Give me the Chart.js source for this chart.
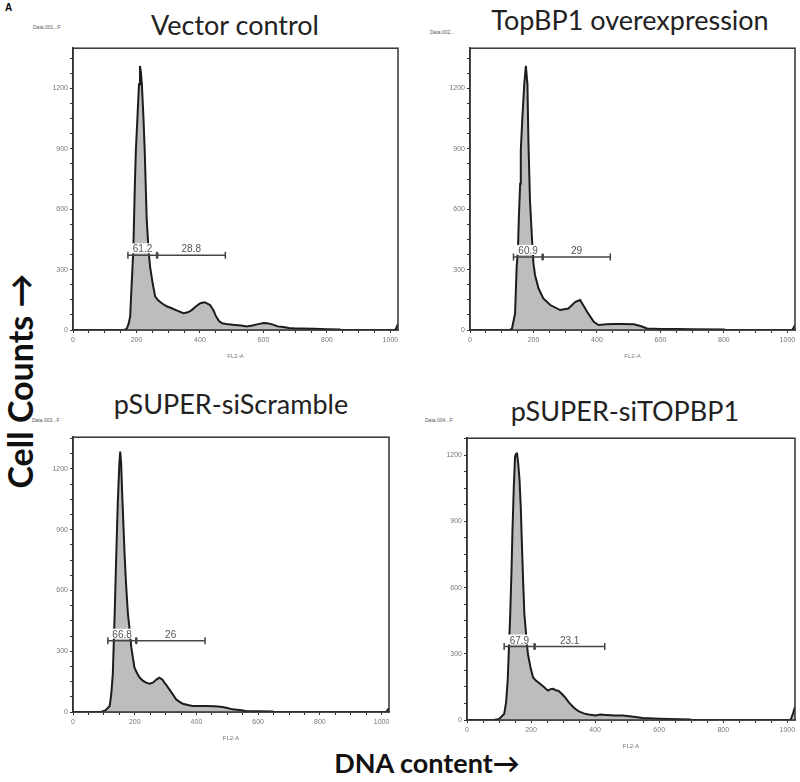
<!DOCTYPE html>
<html>
<head>
<meta charset="utf-8">
<script src="https://cdn.jsdelivr.net/npm/chart.js@4/dist/chart.umd.min.js"></script>
<style>
  body { margin: 0; background: #fff; width: 800px; height: 782px; position: relative; overflow: hidden; font-family: Lato, sans-serif; }
  canvas { position: absolute; }
  .t { position: absolute; transform: translate(-50%, -50%); white-space: nowrap; color: #222; }
  .title { font-size: 27px; }
  .big { font-weight: bold; color: #111; }
  .file { position: absolute; font: 5px Arial, sans-serif; color: #555; }
</style>
</head>
<body>
<div style="position:absolute;left:5px;top:2px;font:bold 10px Arial,sans-serif;">A</div>
<div class="t title" style="left:235px;top:24px;">Vector control</div>
<div class="t title" style="left:630px;top:19px;">TopBP1 overexpression</div>
<div class="t title" style="left:231px;top:403px;">pSUPER-siScramble</div>
<div class="t title" style="left:625px;top:410px;">pSUPER-siTOPBP1</div>
<div class="t big" style="left:19px;top:381px;font-size:34px;transform:translate(-50%,-50%) rotate(-90deg);">Cell Counts →</div>
<div class="t big" style="left:427px;top:762px;font-size:27px;">DNA content→</div>
<div class="file" style="left:33px;top:24px;">Data.001...F</div>
<div class="file" style="left:430px;top:29px;">Data.002...</div>
<div class="file" style="left:32px;top:417px;">Data.003...F</div>
<div class="file" style="left:425px;top:417px;">Data.004...F</div>

<canvas id="c1"></canvas>
<canvas id="c2"></canvas>
<canvas id="c3"></canvas>
<canvas id="c4"></canvas>

<script>
// histogram traces (FL2-A channel, cell counts)
const vecX = [0, 160, 169, 175, 180, 185, 190, 195, 198, 203, 208, 211, 214, 217, 222, 226, 229, 232, 238, 243, 251, 259, 270, 280, 295, 311, 330, 348, 362, 374, 388, 401, 415, 432, 442, 450, 460, 470, 490, 510, 530, 547, 565, 580, 600, 612, 628, 645, 662, 680, 700, 720, 760, 800, 840, 845, 1015, 1020, 1024];
const vecY = [0, 0, 5, 30, 66, 232, 396, 726, 891, 1056, 1221, 1312, 1280, 1221, 1056, 891, 726, 560, 396, 313, 232, 166, 145, 133, 118, 108, 95, 83, 88, 99, 118, 133, 138, 124, 100, 70, 45, 33, 28, 25, 22, 18, 22, 28, 35, 33, 28, 18, 15, 10, 8, 8, 6, 4, 3, 0, 0, 15, 30];

const topX = [0, 125, 132, 142, 147, 151, 154, 158, 160, 165, 171, 176, 181, 184, 189, 195, 200, 205, 216, 231, 253, 284, 310, 332, 347, 369, 390, 405, 430, 455, 480, 516, 537, 558, 600, 650, 700, 800, 805, 1015, 1020, 1024];
const topY = [0, 0, 5, 83, 313, 396, 561, 726, 891, 1056, 1221, 1312, 1221, 940, 644, 462, 330, 272, 206, 157, 124, 99, 107, 140, 149, 91, 41, 25, 28, 30, 30, 28, 20, 8, 5, 5, 4, 2, 0, 0, 12, 25];

const scrX = [0, 90, 105, 119, 124, 129, 135, 140, 145, 150, 153, 156, 159, 163, 167, 172, 178, 184, 189, 199, 208, 216, 226, 237, 248, 259, 270, 280, 290, 296, 304, 312, 323, 334, 345, 356, 372, 388, 410, 431, 460, 485, 500, 517, 540, 560, 600, 647, 650, 1015, 1020, 1024];
const scrY = [0, 0, 8, 30, 90, 187, 484, 765, 1030, 1220, 1286, 1230, 1096, 940, 782, 630, 484, 400, 319, 220, 190, 170, 155, 145, 140, 145, 160, 170, 160, 145, 130, 112, 88, 63, 50, 41, 35, 30, 30, 30, 28, 25, 20, 13, 10, 5, 4, 2, 0, 0, 10, 20];

const siX = [0, 84, 100, 116, 122, 127, 131, 135, 139, 142, 146, 150, 153, 156, 160, 164, 168, 171, 175, 179, 185, 190, 198, 206, 214, 222, 232, 241, 247, 253, 261, 269, 277, 285, 295, 306, 318, 332, 348, 364, 380, 401, 417, 433, 460, 486, 520, 549, 600, 633, 697, 700, 1010, 1018, 1024];
const siY = [0, 0, 5, 27, 80, 179, 330, 482, 680, 861, 1050, 1194, 1205, 1212, 1160, 1088, 960, 815, 640, 482, 380, 300, 240, 194, 180, 171, 160, 148, 140, 133, 140, 141, 135, 133, 120, 103, 80, 58, 40, 30, 25, 20, 25, 23, 20, 20, 15, 9, 6, 4, 2, 0, 0, 30, 60];

// gate edges (G1 | S-phase markers), gate level and percentages
const vecGate = [173, 265, 480], vecLevel = 371, vecPct = ['61.2', '28.8'];
const topGate = [137, 229, 442], topLevel = 363, topPct = ['60.9', '29'];
const scrGate = [113, 205, 428], scrLevel = 352, scrPct = ['66.8', '26'];
const siGate = [116, 211, 430], siLevel = 333, siPct = ['67.9', '23.1'];

const yMax = [1400, 1400, 1357, 1277];

// labelled ticks; minor ticks sit between them
const xTickLabels = [0, 200, 400, 600, 800, 1000];
const yTickLabels = [0, 300, 600, 900, 1200];
const xMinor = 50, yMinor = 75;

function tickList(max, step) {
  const out = [];
  for (let v = 0; v <= max; v += step) out.push({ value: v });
  return out;
}

// frame + gate markers
const gatePlugin = {
  id: 'gates',
  afterDatasetsDraw(chart, args, opts) {
    const { ctx, chartArea: a, scales: { x, y } } = chart;
    ctx.save();
    ctx.strokeStyle = '#333';
    ctx.lineWidth = 1.5;
    ctx.strokeRect(a.left, a.top, a.right - a.left, a.bottom - a.top);

    const py = y.getPixelForValue(opts.level);
    const px = opts.edges.map(v => x.getPixelForValue(v));
    ctx.strokeStyle = '#444';
    ctx.lineWidth = 1.5;
    ctx.beginPath();
    ctx.moveTo(px[0], py);
    ctx.lineTo(px[2], py);
    px.forEach(p => { ctx.moveTo(p, py - 3.5); ctx.lineTo(p, py + 3.5); });
    ctx.stroke();
    ctx.lineWidth = 2.5;
    ctx.beginPath();
    ctx.moveTo(px[1], py - 3);
    ctx.lineTo(px[1], py + 3);
    ctx.stroke();

    ctx.font = '10px Arial, sans-serif';
    ctx.textAlign = 'center';
    ctx.textBaseline = 'alphabetic';
    const c0 = (px[0] + px[1]) / 2, c1 = (px[1] + px[2]) / 2;
    const w0 = ctx.measureText(opts.labels[0]).width;
    ctx.fillStyle = '#fff';
    ctx.fillRect(c0 - w0 / 2 - 2, py - 12, w0 + 4, 10);
    ctx.fillStyle = '#555';
    ctx.fillText(opts.labels[0], c0, py - 3);
    ctx.fillText(opts.labels[1], c1, py - 3);
    ctx.restore();
  }
};

function criaPainel(id, box, xs, ys, ymax, edges, level, labels) {
  const cv = document.getElementById(id);
  const padL = 45, padT = 6, padR = 6, padB = 30;
  const w = box[2] - box[0], h = box[3] - box[1];
  cv.width = w + padL + padR;
  cv.height = h + padT + padB;
  cv.style.left = (box[0] - padL) + 'px';
  cv.style.top = (box[1] - padT) + 'px';

  const pontos = xs.map((v, i) => ({ x: v, y: ys[i] }));
  new Chart(cv, {
    type: 'line',
    data: {
      datasets: [{
        data: pontos,
        borderColor: '#1c1c1c',
        borderWidth: 2,
        backgroundColor: '#bdbdbd',
        fill: 'origin',
        pointRadius: 0,
        tension: 0
      }]
    },
    options: {
      responsive: false,
      animation: false,
      layout: { padding: { top: padT, right: padR, left: 0, bottom: 0 } },
      plugins: {
        legend: { display: false },
        tooltip: { enabled: false },
        gates: { edges, level, labels }
      },
      scales: {
        x: {
          type: 'linear', min: 0, max: 1024,
          afterFit: s => { s.height = padB; },
          afterBuildTicks: s => { s.ticks = tickList(1024, xMinor); },
          border: { color: '#333', width: 1.5 },
          grid: { drawOnChartArea: false, tickLength: 3, color: '#333' },
          ticks: {
            autoSkip: false, maxRotation: 0, padding: 3,
            color: '#777', font: { size: 7, family: 'Arial' },
            callback: v => (xTickLabels.includes(v) ? String(v) : '')
          },
          title: { display: true, text: 'FL2-A', color: '#777', font: { size: 6, family: 'Arial' }, padding: 0 }
        },
        y: {
          type: 'linear', min: 0, max: ymax,
          afterFit: s => { s.width = padL; },
          afterBuildTicks: s => { s.ticks = tickList(ymax, yMinor); },
          border: { color: '#333', width: 1.5 },
          grid: { drawOnChartArea: false, tickLength: 3, color: '#333' },
          ticks: {
            autoSkip: false, padding: 2,
            color: '#777', font: { size: 7, family: 'Arial' },
            callback: v => (yTickLabels.includes(v) ? String(v) : '')
          }
        }
      }
    },
    plugins: [gatePlugin]
  });
}

window.onload = () => {
  criaPainel('c1', [73, 48, 398, 330], vecX, vecY, yMax[0], vecGate, vecLevel, vecPct);
  criaPainel('c2', [470, 48, 795, 330], topX, topY, yMax[1], topGate, topLevel, topPct);
  criaPainel('c3', [73, 437, 389, 712], scrX, scrY, yMax[2], scrGate, scrLevel, scrPct);
  criaPainel('c4', [467, 438, 795, 720], siX, siY, yMax[3], siGate, siLevel, siPct);
};
</script>
</body>
</html>
